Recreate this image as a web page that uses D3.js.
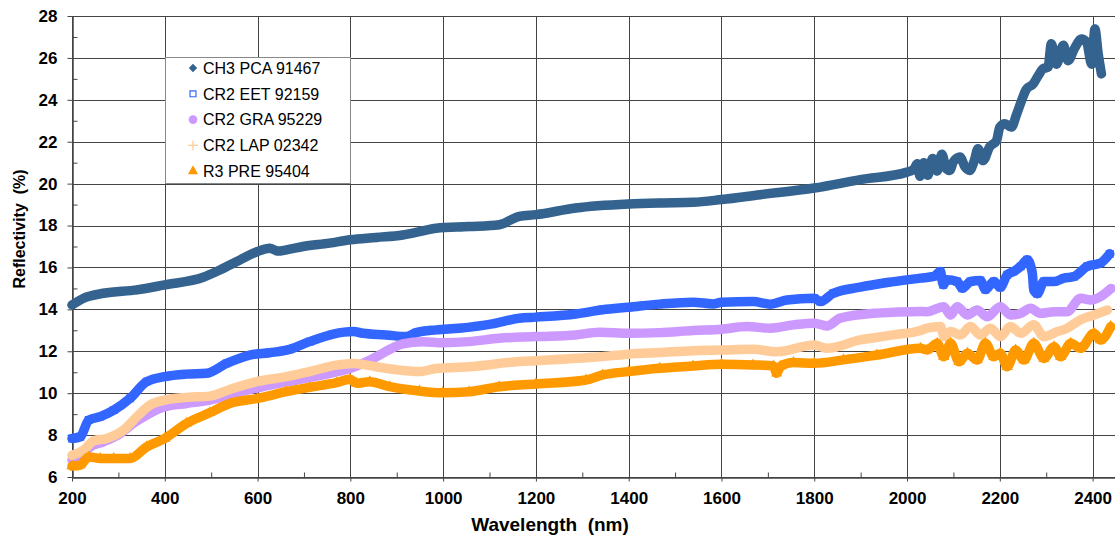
<!DOCTYPE html>
<html>
<head>
<meta charset="utf-8">
<script src="https://cdn.jsdelivr.net/npm/d3@7"></script>
<style>
  body { margin: 0; background: #fff; }
  svg { display: block; font-family: "Liberation Sans", Arial, sans-serif; }
</style>
</head>
<body>
<svg id="chart" width="1115" height="535"></svg>
<script>
const xTicks = [200, 400, 600, 800, 1000, 1200, 1400, 1600, 1800, 2000, 2200, 2400]
const xMinorTicks = [300, 500, 700, 900, 1100, 1300, 1500, 1700, 1900, 2100, 2300]
const yTicks = [6, 8, 10, 12, 14, 16, 18, 20, 22, 24, 26, 28]
const yMinorTicks = [7, 9, 11, 13, 15, 17, 19, 21, 23, 25, 27]

const seriesNames = ['CH3 PCA 91467', 'CR2 EET 92159', 'CR2 GRA 95229', 'CR2 LAP 02342', 'R3 PRE 95404']
const seriesColors = ['#35638f', '#3366ff', '#cc99ff', '#ffcc99', '#ff9900']
const seriesMarkers = ['diamond', 'square', 'circle', 'plus', 'triangle']

// [wavelength nm, reflectivity %]
const ch3Pca91467 = [
  [200,14.21],[225,14.53],[268,14.77],[340,14.93],[400,15.17],[483,15.53],[519,15.88],[562,16.36],
  [600,16.76],[626,16.92],[644,16.78],[662,16.84],[698,17.0],[755,17.16],[800,17.32],[856,17.43],
  [913,17.55],[949,17.71],[985,17.87],[1056,17.95],[1121,18.04],[1164,18.44],[1200,18.52],[1286,18.84],
  [1400,19.03],[1467,19.08],[1539,19.11],[1600,19.24],[1683,19.47],[1800,19.79],[1899,20.19],[2000,20.55],
  [2015,20.7],[2022,20.95],[2028,20.35],[2036,21.0],[2045,20.4],[2055,21.2],[2065,20.6],[2075,21.4],
  [2085,20.7],[2092,20.63],[2100,21.05],[2114,21.27],[2125,20.8],[2135,20.63],[2145,21.1],[2153,21.67],
  [2164,21.1],[2178,21.75],[2193,22.06],[2200,22.7],[2211,22.86],[2225,22.7],[2236,23.3],[2247,23.97],
  [2257,24.5],[2272,24.76],[2283,25.16],[2293,25.48],[2304,25.56],[2311,26.67],[2322,25.7],[2337,26.6],
  [2347,25.87],[2362,26.5],[2376,26.9],[2387,26.75],[2398,25.7],[2405,27.38],[2412,26.2],[2419,25.24]
]
const cr2Eet92159 = [
  [200,7.84],[218,7.92],[236,8.72],[261,8.88],[290,9.19],[325,9.75],[361,10.55],[400,10.79],
  [447,10.91],[490,10.95],[533,11.42],[583,11.82],[626,11.93],[669,12.09],[712,12.46],[763,12.82],
  [806,12.94],[827,12.86],[877,12.78],[920,12.70],[942,12.89],[985,13.02],[1034,13.10],[1106,13.31],
  [1164,13.58],[1200,13.63],[1286,13.78],[1344,13.98],[1400,14.10],[1467,14.25],[1539,14.34],[1582,14.26],
  [1600,14.34],[1668,14.37],[1705,14.25],[1741,14.45],[1800,14.53],[1813,14.37],[1841,14.77],[1899,15.06],
  [1957,15.28],[2029,15.49],[2058,15.57],[2072,15.81],[2078,15.17],[2086,15.41],[2108,15.33],[2119,15.01],
  [2137,15.33],[2158,15.38],[2169,14.95],[2187,15.33],[2201,15.05],[2216,15.65],[2230,15.81],[2245,16.05],
  [2259,16.37],[2270,15.73],[2273,14.95],[2281,14.75],[2295,15.33],[2317,15.33],[2338,15.49],[2360,15.57],
  [2388,16.05],[2417,16.21],[2437,16.65]
]
const cr2Gra95229 = [
  [200,6.81],[218,6.89],[239,7.44],[268,7.68],[304,8.08],[332,8.56],[361,8.96],[400,9.35],
  [447,9.51],[497,9.67],[555,10.02],[612,10.31],[684,10.63],[756,10.95],[799,11.18],[827,11.42],
  [856,11.74],[885,12.09],[913,12.35],[956,12.46],[999,12.41],[1056,12.46],[1121,12.62],[1200,12.70],
  [1286,12.78],[1337,12.91],[1400,12.86],[1467,12.89],[1539,12.99],[1600,13.05],[1654,13.18],[1705,13.10],
  [1755,13.26],[1800,13.34],[1827,13.21],[1856,13.58],[1935,13.82],[2029,13.90],[2043,13.89],[2079,14.13],
  [2094,13.73],[2108,14.13],[2130,13.73],[2151,13.97],[2173,13.65],[2201,14.13],[2223,13.73],[2245,13.81],
  [2266,14.05],[2288,13.81],[2317,13.89],[2345,13.89],[2374,14.53],[2396,14.45],[2417,14.61],[2440,15.0]
]
const cr2Lap02342 = [
  [200,7.04],[225,7.28],[247,7.73],[275,7.84],[311,8.24],[340,8.88],[368,9.43],[400,9.67],
  [447,9.80],[497,9.86],[540,10.18],[598,10.55],[662,10.79],[712,11.03],[770,11.34],[806,11.42],
  [856,11.26],[906,11.10],[949,11.03],[985,11.18],[1056,11.26],[1164,11.51],[1200,11.55],[1323,11.71],
  [1400,11.86],[1467,11.94],[1539,12.03],[1600,12.06],[1668,12.10],[1719,11.98],[1800,12.30],[1827,12.14],
  [1899,12.54],[1971,12.78],[2029,12.99],[2043,13.10],[2072,13.18],[2080,12.70],[2094,12.94],[2115,12.78],
  [2137,13.18],[2158,12.78],[2180,13.10],[2201,12.70],[2223,13.18],[2245,12.86],[2273,13.26],[2295,12.70],
  [2324,12.94],[2345,13.10],[2374,13.50],[2403,13.73],[2432,13.97]
]
const r3Pre95404 = [
  [200,6.52],[218,6.57],[236,6.96],[261,6.88],[290,6.88],[325,6.88],[361,7.44],[400,7.84],
  [447,8.56],[497,9.07],[540,9.51],[600,9.75],[662,10.07],[712,10.28],[770,10.50],[799,10.66],
  [813,10.47],[842,10.55],[885,10.31],[949,10.10],[999,10.02],[1056,10.07],[1121,10.31],[1200,10.44],
  [1308,10.63],[1344,10.87],[1400,11.03],[1467,11.19],[1539,11.30],[1600,11.38],[1668,11.35],[1712,11.3],
  [1719,10.95],[1728,11.3],[1755,11.46],[1800,11.43],[1863,11.59],[1935,11.82],[2029,12.14],[2043,12.06],
  [2065,12.38],[2079,11.74],[2094,12.38],[2112,11.50],[2130,11.90],[2151,11.58],[2169,12.38],[2187,11.74],
  [2201,11.90],[2216,11.26],[2234,12.06],[2252,11.58],[2273,12.38],[2295,11.66],[2317,12.22],[2331,11.74],
  [2353,12.38],[2374,12.14],[2403,12.86],[2417,12.54],[2439,13.18]
]
const seriesData = [ch3Pca91467, cr2Eet92159, cr2Gra95229, cr2Lap02342, r3Pre95404]

const svg = d3.select('#chart')
const x = d3.scaleLinear().domain([200, 2500]).range([72, 1139])
const y = d3.scaleLinear().domain([6, 28]).range([477, 16])
const crisp = (v) => Math.round(v) + 0.5

// grid
const grid = svg.append('g').attr('stroke', '#444').attr('stroke-width', 1)
grid.selectAll('.vg').data(xTicks).enter().append('line')
  .attr('x1', d => crisp(x(d))).attr('x2', d => crisp(x(d)))
  .attr('y1', y(28)).attr('y2', y(6))
grid.selectAll('.hg').data(yTicks).enter().append('line')
  .attr('x1', x(200)).attr('x2', x(2500))
  .attr('y1', d => crisp(y(d))).attr('y2', d => crisp(y(d)))

// axes
const xAxis = svg.append('g').attr('transform', `translate(0,${crisp(y(6))})`)
  .call(d3.axisBottom(x).tickValues(xTicks).tickFormat(d3.format('d')).tickSize(4).tickPadding(10).tickSizeOuter(0))
xAxis.append('g')
  .call(d3.axisBottom(x).tickValues(xMinorTicks).tickSize(-5).tickFormat('').tickSizeOuter(0))
const yAxis = svg.append('g').attr('transform', `translate(${crisp(x(200))},0)`)
  .call(d3.axisLeft(y).tickValues(yTicks).tickSize(5).tickPadding(10).tickSizeOuter(0))
yAxis.append('g')
  .call(d3.axisLeft(y).tickValues(yMinorTicks).tickSize(-5).tickFormat('').tickSizeOuter(0))

svg.selectAll('.domain').attr('stroke', '#444')
svg.selectAll('.tick line').attr('stroke', '#444')
svg.selectAll('.tick text')
  .attr('font-family', '"Liberation Sans", Arial, sans-serif')
  .attr('font-size', 17).attr('font-weight', 'bold').attr('fill', '#000')

svg.append('text')
  .attr('transform', 'translate(25,229) rotate(-90)')
  .attr('text-anchor', 'middle')
  .attr('font-size', 16).attr('font-weight', 'bold')
  .style('white-space', 'pre')
  .text('Reflectivity  (%)')

svg.append('text')
  .attr('x', 550).attr('y', 531)
  .attr('text-anchor', 'middle')
  .attr('font-size', 19).attr('font-weight', 'bold')
  .style('white-space', 'pre')
  .text('Wavelength  (nm)')

const symbolFor = (m, size) => {
  if (m === 'diamond') return d3.symbol(d3.symbolDiamond2, size)()
  if (m === 'square') return d3.symbol(d3.symbolSquare2, size)()
  if (m === 'circle') return d3.symbol(d3.symbolCircle, size)()
  if (m === 'plus') return d3.symbol(d3.symbolCross, size * 0.6)()
  return d3.symbol(d3.symbolTriangle, size)()
}

const drawMarkers = (g, m, color, pts, size) => {
  const open = m === 'square'
  g.selectAll('path.mk').data(pts).enter().append('path')
    .attr('class', 'mk')
    .attr('transform', d => `translate(${x(d[0])},${y(d[1])})`)
    .attr('d', symbolFor(m, size))
    .attr('fill', open ? 'none' : color)
    .attr('stroke', open ? color : 'none')
    .attr('stroke-width', 1.3)
}

const line = d3.line().x(d => x(d[0])).y(d => y(d[1])).curve(d3.curveMonotoneX)

seriesData.forEach((pts, i) => {
  const g = svg.append('g')
  g.append('path')
    .attr('d', line(pts))
    .attr('fill', 'none')
    .attr('stroke', seriesColors[i])
    .attr('stroke-width', 9.5)
    .attr('stroke-linejoin', 'round')
    .attr('stroke-linecap', 'round')
  drawMarkers(g, seriesMarkers[i], seriesColors[i], pts, 55)
})

// legend
const legend = svg.append('g')
legend.append('rect')
  .attr('x', 165.5).attr('y', 57.5).attr('width', 185).attr('height', 126)
  .attr('fill', '#fff').attr('stroke', '#888')

const rows = legend.selectAll('g.row').data(seriesNames).enter().append('g')
  .attr('transform', (d, i) => `translate(193,${68 + i * 25.8})`)
rows.append('path')
  .attr('d', (d, i) => {
    const m = seriesMarkers[i]
    if (m === 'plus') return 'M-5,0H5M0,-5V5'
    return symbolFor(m, m === 'circle' ? 60 : 45)
  })
  .attr('fill', (d, i) => (seriesMarkers[i] === 'square' || seriesMarkers[i] === 'plus') ? 'none' : seriesColors[i])
  .attr('stroke', (d, i) => (seriesMarkers[i] === 'square' || seriesMarkers[i] === 'plus') ? seriesColors[i] : 'none')
  .attr('stroke-width', 1.2)
rows.append('text')
  .attr('x', 10).attr('dy', '0.36em')
  .attr('font-size', 16)
  .text(d => d)
</script>
</body>
</html>
